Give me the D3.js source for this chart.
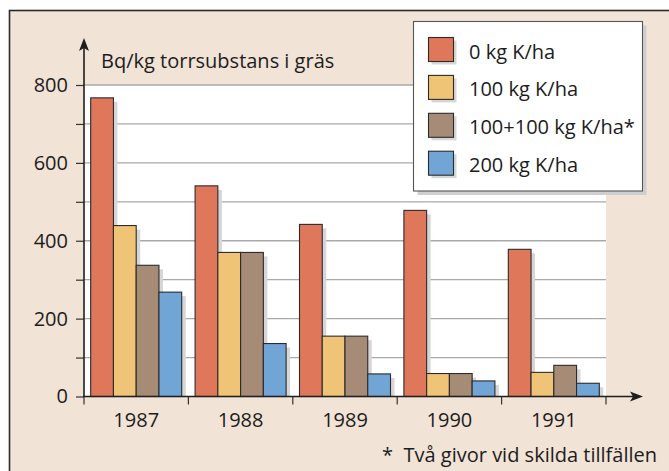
<!DOCTYPE html>
<html><head><meta charset="utf-8">
<script src="https://cdn.jsdelivr.net/npm/d3@7"></script>
<style>
html,body{margin:0;padding:0;background:#fff;}
svg{display:block;font-family:"Open Sans",sans-serif;}
</style></head>
<body>
<svg id="c" width="669" height="471"></svg>
<script>
const years = ["1987","1988","1989","1990","1991"];
const seriesNames = ["0 kg K/ha","100 kg K/ha","100+100 kg K/ha*","200 kg K/ha"];
const s0 = [767, 541, 442, 478, 378];
const s100 = [439, 370, 155, 59, 62];
const s100100 = [337, 370, 155, 59, 80];
const s200 = [268, 136, 58, 40, 34];
const seriesValues = [s0, s100, s100100, s200];
const colors = ["#df775a", "#f0c477", "#a68b76", "#70a5d5"];
const yTicks = [0,100,200,300,400,500,600,700,800];
const yTitle = "Bq/kg torrsubstans i gräs";
const footnote = "*  Två givor vid skilda tillfällen";

(function(){
const FONT = "Open Sans";
const FS = 20;
const TXT = "#1c1c1c";
const svg = d3.select("#c");
const bg = "#f2e3d7";
svg.append("rect").attr("x",9.5).attr("y",10.5).attr("width",700).attr("height",500)
  .attr("fill",bg).attr("stroke","#2a2a2a").attr("stroke-width",1.6);

const pl = 84, pr = 606, pt = 85, pb = 396.5;
const y = d3.scaleLinear().domain([0,800]).range([pb, pt]);
const x = d3.scaleBand().domain(years).range([pl, pr]).padding(0);
const x1 = d3.scaleBand().domain(seriesNames).range([6.7, x.bandwidth()-6.7]).padding(0);

svg.append("rect").attr("x",pl).attr("y",pt).attr("width",pr-pl).attr("height",pb-pt).attr("fill","#fff");
svg.append("g").selectAll("line").data(yTicks.filter(d=>d>0)).join("line")
  .attr("x1",pl).attr("x2",pr).attr("y1",d=>y(d)).attr("y2",d=>y(d))
  .attr("stroke","#a9a9a9").attr("stroke-width",1.3);

const rows = [];
years.forEach((yr,i)=>seriesNames.forEach((s,j)=>rows.push({yr, s, j, v: seriesValues[j][i]})));

svg.append("g").selectAll("rect").data(rows).join("rect")
  .attr("x",d=>x(d.yr)+x1(d.s)+4).attr("y",d=>y(d.v)+4)
  .attr("width",x1.bandwidth()).attr("height",d=>pb-y(d.v)-4)
  .attr("fill","#d6d6d8");
svg.append("g").selectAll("rect").data(rows).join("rect")
  .attr("x",d=>x(d.yr)+x1(d.s)).attr("y",d=>y(d.v))
  .attr("width",x1.bandwidth()).attr("height",d=>pb-y(d.v))
  .attr("fill",d=>colors[d.j]).attr("stroke","#2b2b2b").attr("stroke-width",1.1);

const yAxis = d3.axisLeft(y).tickValues(yTicks).tickSize(8).tickPadding(8)
  .tickFormat(d=> d%200===0 ? d : "");
const gy = svg.append("g").attr("transform",`translate(${pl},0)`).call(yAxis);
gy.select(".domain").remove();
gy.selectAll(".tick line").attr("stroke","#333").attr("stroke-width",1.2);
gy.selectAll(".tick text").attr("font-size",FS).attr("fill",TXT).attr("font-family",FONT);
svg.append("line").attr("x1",pl).attr("x2",pl).attr("y1",pb+0.5).attr("y2",46)
  .attr("stroke","#1e1e1e").attr("stroke-width",1.6);
svg.append("path").attr("d",`M${pl},38 L${pl-5},51 L${pl},48 L${pl+5},51 Z`).attr("fill","#1e1e1e");

const xAxis = d3.axisBottom(x).tickSize(0).tickPadding(16);
const gx = svg.append("g").attr("transform",`translate(0,${pb})`).call(xAxis);
gx.select(".domain").remove();
gx.selectAll(".tick text").attr("font-size",FS).attr("fill",TXT).attr("font-family",FONT);
const bounds = years.map(d=>x(d)).concat([x(years[years.length-1])+x.bandwidth()]);
svg.append("g").selectAll("line").data(bounds).join("line")
  .attr("x1",d=>d).attr("x2",d=>d).attr("y1",pb).attr("y2",pb+8)
  .attr("stroke","#333").attr("stroke-width",1.2);
svg.append("line").attr("x1",pl-1).attr("x2",634).attr("y1",pb).attr("y2",pb)
  .attr("stroke","#1e1e1e").attr("stroke-width",1.6);
svg.append("path").attr("d",`M643,${pb} L630,${pb-5} L633,${pb} L630,${pb+5} Z`).attr("fill","#1e1e1e");

svg.append("text").attr("x",101).attr("y",68).attr("font-size",FS).attr("fill",TXT).text(yTitle);

const lg = svg.append("g");
lg.append("rect").attr("x",417.5).attr("y",25.5).attr("width",229).attr("height",169.5).attr("fill","#cfcfd1");
lg.append("rect").attr("x",413.5).attr("y",21.5).attr("width",229).attr("height",169.5)
  .attr("fill","#fff").attr("stroke","#555").attr("stroke-width",1.1);
const items = lg.selectAll("g.item").data(seriesNames).join("g").attr("class","item")
  .attr("transform",(d,i)=>`translate(428.5,${37.5+i*37.9})`);
items.append("rect").attr("x",3).attr("y",3).attr("width",25).attr("height",24).attr("fill","#d6d6d8");
items.append("rect").attr("width",25).attr("height",24).attr("fill",(d,i)=>colors[i])
  .attr("stroke","#2b2b2b").attr("stroke-width",1.1);
items.append("text").attr("x",40.5).attr("y",21).attr("font-size",FS).attr("fill",TXT).text(d=>d);

svg.append("text").attr("x",657).attr("y",462).attr("text-anchor","end")
  .attr("font-size",FS).attr("fill",TXT).style("white-space","pre").text(footnote);
})();
</script>
</body></html>
